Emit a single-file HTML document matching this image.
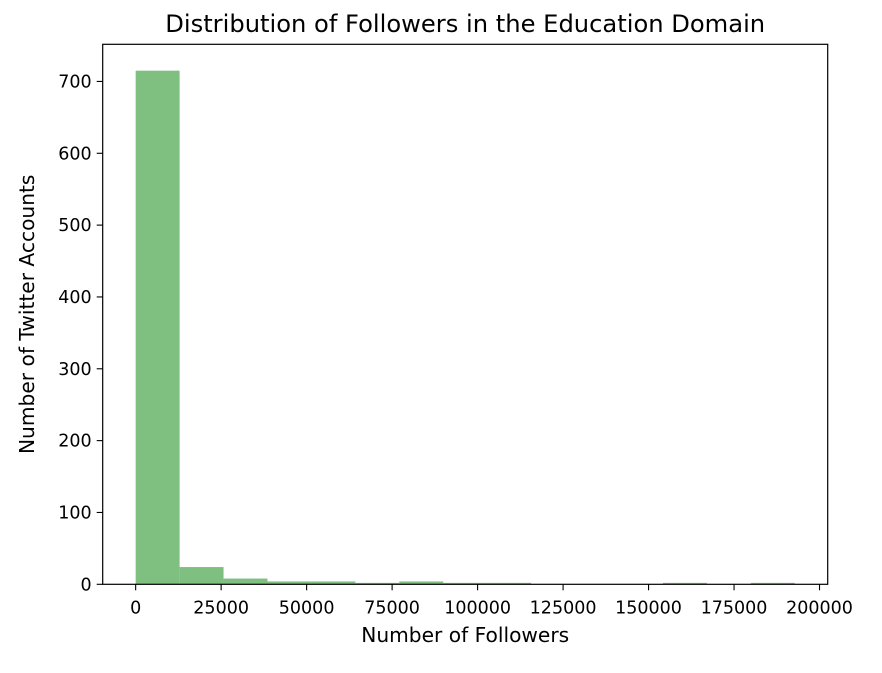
<!DOCTYPE html>
<html><head><meta charset="utf-8"><style>
body{margin:0;background:#fff;}
svg text{font-family:"DejaVu Sans","Liberation Sans",sans-serif;fill:#000;}
</style></head><body>
<svg width="882" height="668" xmlns="http://www.w3.org/2000/svg">
<g id="plot"></g>
</svg>
<script>
const binStarts=[0,12850,25700,38550,51400,64250,77100,89950,102800,115650,128500,141350,154200,167050,179900];
const counts=[715,24,8,4,4,2,4,2,2,0,0,0,2,0,2];
const binWidth=12850;
const xTicks=[0,25000,50000,75000,100000,125000,150000,175000,200000];
const yTicks=[0,100,200,300,400,500,600,700];
const L=102.7,R=827.7,T=44.3,B=584.3;
const xMin=-9640,xMax=202390,yMax=751.7;
const sx=v=>L+(v-xMin)/(xMax-xMin)*(R-L);
const sy=v=>B-v/yMax*(B-T);
const g=document.getElementById('plot');
const NS='http://www.w3.org/2000/svg';
function mk(t,a){const e=document.createElementNS(NS,t);for(const k in a)e.setAttribute(k,a[k]);g.appendChild(e);return e;}
counts.forEach((c,i)=>{if(c<=0)return;
const r=mk('rect',{x:sx(binStarts[i]),y:sy(c),width:sx(binStarts[i]+binWidth)-sx(binStarts[i]),height:B-sy(c),fill:'#7fbf7f'});

});
const fr=mk('rect',{x:L,y:T,width:R-L,height:B-T,fill:'none',stroke:'#000','stroke-width':1.2});


xTicks.forEach(v=>{const x=sx(v);
mk('line',{x1:x,x2:x,y1:B,y2:B+6,stroke:'#000','stroke-width':1.1});
const t=mk('text',{x:x,y:B+29,'text-anchor':'middle','font-size':17.5});t.textContent=v;

});
yTicks.forEach(v=>{const y=sy(v);
mk('line',{x1:L-6,x2:L,y1:y,y2:y,stroke:'#000','stroke-width':1.1});
const t=mk('text',{x:L-11,y:y+6,'text-anchor':'end','font-size':17.5});t.textContent=v;

});
let t=mk('text',{x:(L+R)/2,y:32,'text-anchor':'middle','font-size':24.2});t.textContent='Distribution of Followers in the Education Domain';


t=mk('text',{x:(L+R)/2,y:642,'text-anchor':'middle','font-size':20.2});t.textContent='Number of Followers';


t=mk('text',{x:0,y:0,'text-anchor':'middle','font-size':20.2,transform:'translate(34,'+((T+B)/2)+') rotate(-90)'});t.textContent='Number of Twitter Accounts';


</script>
</body></html>
